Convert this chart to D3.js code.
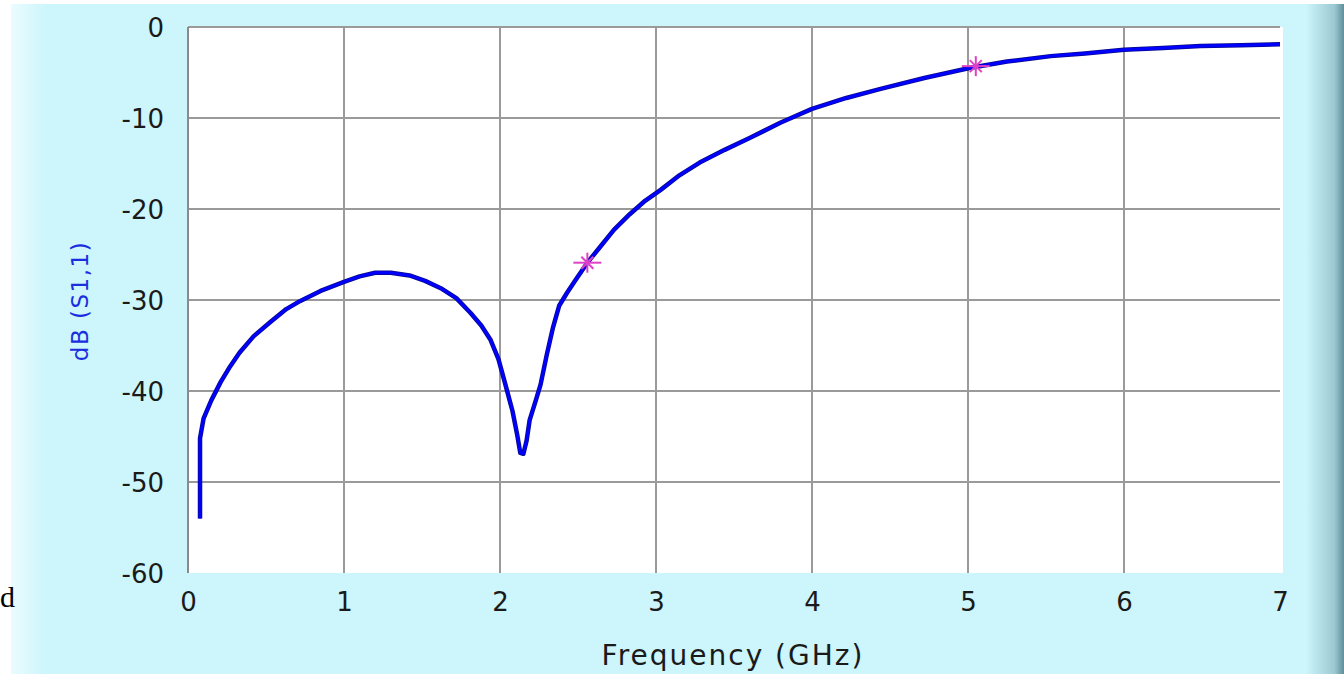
<!DOCTYPE html>
<html>
<head>
<meta charset="utf-8">
<title>dB(S1,1)</title>
<style type="text/css">
body {margin: 0; background: #fff;}
svg {display: block;}
.tick text {font-family: "DejaVu Sans", Verdana, sans-serif; fill: #1a1a1a;}
</style>
</head>
<body>
<svg width="1344" height="674"></svg>
<script src="https://d3js.org/d3.v7.min.js"></script>
<script>
// frequency in GHz, return loss in dB
var freq = [0.077, 0.077, 0.10, 0.15, 0.21, 0.27, 0.33, 0.42, 0.53, 0.63, 0.72, 0.85, 1.00, 1.10, 1.20, 1.30, 1.42, 1.52, 1.62, 1.72, 1.81, 1.88, 1.94, 1.99, 2.03, 2.08, 2.11, 2.13, 2.15, 2.17, 2.19, 2.23, 2.26, 2.30, 2.34, 2.38, 2.43, 2.48, 2.56, 2.64, 2.73, 2.83, 2.93, 3.03, 3.15, 3.28, 3.44, 3.60, 3.80, 4.00, 4.22, 4.44, 4.72, 5.01, 5.25, 5.53, 5.75, 6.00, 6.25, 6.49, 6.75, 7.00];
var s11 = [-54.0, -45.2, -43.0, -41.0, -39.0, -37.3, -35.8, -34.0, -32.4, -31.0, -30.1, -29.0, -28.0, -27.4, -27.0, -27.0, -27.3, -27.9, -28.7, -29.8, -31.4, -32.8, -34.4, -36.5, -39.0, -42.2, -44.8, -46.8, -46.9, -45.5, -43.2, -41.0, -39.3, -36.0, -33.0, -30.6, -29.2, -27.9, -25.9, -24.2, -22.3, -20.6, -19.1, -17.9, -16.3, -14.9, -13.5, -12.2, -10.5, -9.0, -7.8, -6.8, -5.6, -4.5, -3.8, -3.2, -2.9, -2.5, -2.3, -2.1, -2.0, -1.9];
var markerFreq = [2.56, 5.05];
var markerDb = [-25.9, -4.3];
var xTicks = [0, 1, 2, 3, 4, 5, 6, 7];
var yTicks = [0, -10, -20, -30, -40, -50, -60];

var svg = d3.select("svg"),
    margin = {top: 27, right: 64, bottom: 101, left: 188},
    width = +svg.attr("width") - margin.left - margin.right,
    height = +svg.attr("height") - margin.top - margin.bottom;

// panel background: cyan with soft strips at the edges
var defs = svg.append("defs");
var lg = defs.append("linearGradient").attr("id", "leftStrip");
lg.append("stop").attr("offset", "0%").attr("stop-color", "#eafcfe");
lg.append("stop").attr("offset", "100%").attr("stop-color", "#ccf5fc");
var rg = defs.append("linearGradient").attr("id", "rightStrip");
rg.append("stop").attr("offset", "0%").attr("stop-color", "#ccf5fc");
rg.append("stop").attr("offset", "75%").attr("stop-color", "#9cc8d2");
rg.append("stop").attr("offset", "100%").attr("stop-color", "#5f8f99");

svg.append("rect").attr("x", 11).attr("y", 4).attr("width", 1333).attr("height", 670).attr("fill", "#ccf5fc");
svg.append("rect").attr("x", 11).attr("y", 4).attr("width", 36).attr("height", 670).attr("fill", "url(#leftStrip)");
svg.append("rect").attr("x", 1306).attr("y", 4).attr("width", 38).attr("height", 670).attr("fill", "url(#rightStrip)");

// stray glyph from the source page on the far left
svg.append("text")
    .attr("x", 0).attr("y", 607)
    .attr("font-family", "Liberation Serif, serif")
    .attr("font-size", 30)
    .attr("fill", "#000")
    .text("d");

var g = svg.append("g").attr("transform", "translate(" + margin.left + "," + margin.top + ")");

var x = d3.scaleLinear().domain([0, 7]).range([0, width]);
var y = d3.scaleLinear().domain([-60, 0]).range([height, 0]);

g.append("rect").attr("width", width + 3).attr("height", height).attr("fill", "#fff");

// grid
g.append("g").selectAll("line")
    .data(xTicks.filter(function(d) { return d > 0 && d < 7; }))
    .enter().append("line")
    .attr("x1", function(d) { return x(d); })
    .attr("x2", function(d) { return x(d); })
    .attr("y1", 0).attr("y2", height)
    .attr("stroke", "#9a9a9a").attr("stroke-width", 2);
g.append("g").selectAll("line")
    .data(yTicks.filter(function(d) { return d > -60; }))
    .enter().append("line")
    .attr("x1", 0).attr("x2", width)
    .attr("y1", function(d) { return y(d); })
    .attr("y2", function(d) { return y(d); })
    .attr("stroke", "#9a9a9a").attr("stroke-width", 2);
g.append("line").attr("x1", 0).attr("x2", 0).attr("y1", 0).attr("y2", height)
    .attr("stroke", "#8a8a8a").attr("stroke-width", 2);

// axes (labels only), plain hyphen for the minus sign
var fmt = function(d) { return String(d); };
var yAxis = g.append("g")
    .call(d3.axisLeft(y).tickValues(yTicks).tickSize(0).tickPadding(24).tickFormat(fmt));
yAxis.select(".domain").remove();
yAxis.selectAll("text").attr("font-size", 26).attr("dy", "0.36em");

var xAxis = g.append("g")
    .attr("transform", "translate(0," + height + ")")
    .call(d3.axisBottom(x).tickValues(xTicks).tickSize(0).tickPadding(20).tickFormat(fmt));
xAxis.select(".domain").remove();
xAxis.selectAll("text").attr("font-size", 26);

svg.append("text")
    .attr("x", margin.left + width / 2 - 1)
    .attr("y", 665)
    .attr("text-anchor", "middle")
    .attr("font-family", "DejaVu Sans, Verdana, sans-serif")
    .attr("font-size", 28)
    .attr("letter-spacing", 2)
    .attr("fill", "#1a1a1a")
    .text("Frequency (GHz)");

svg.append("text")
    .attr("transform", "translate(88,301) rotate(-90)")
    .attr("text-anchor", "middle")
    .attr("font-family", "DejaVu Sans, Verdana, sans-serif")
    .attr("font-size", 23)
    .attr("letter-spacing", 1.5)
    .attr("fill", "#1a2ee0")
    .text("dB (S1,1)");

// trace
var pts = freq.map(function(f, i) { return [f, s11[i]]; });
var line = d3.line()
    .x(function(d) { return x(d[0]); })
    .y(function(d) { return y(d[1]); });
g.append("path")
    .datum(pts)
    .attr("fill", "none")
    .attr("stroke", "#0a0a8a")
    .attr("stroke-width", 4.5)
    .attr("stroke-linejoin", "round")
    .attr("d", line);
g.append("path")
    .datum(pts)
    .attr("fill", "none")
    .attr("stroke", "#0000ff")
    .attr("stroke-width", 3)
    .attr("stroke-linejoin", "round")
    .attr("d", line);

// markers
var mk = g.append("g").selectAll("g")
    .data(markerFreq.map(function(f, i) { return [f, markerDb[i]]; }))
    .enter().append("g")
    .attr("transform", function(d) { return "translate(" + x(d[0]) + "," + y(d[1]) + ")"; })
    .attr("stroke", "#e040c8").attr("stroke-width", 2);
mk.append("line").attr("x1", -14).attr("x2", 14).attr("y1", 0).attr("y2", 0);
mk.append("line").attr("x1", 0).attr("x2", 0).attr("y1", -10).attr("y2", 10);
mk.append("line").attr("x1", -6).attr("x2", 6).attr("y1", -6).attr("y2", 6);
mk.append("line").attr("x1", -6).attr("x2", 6).attr("y1", 6).attr("y2", -6);
</script>
</body>
</html>
